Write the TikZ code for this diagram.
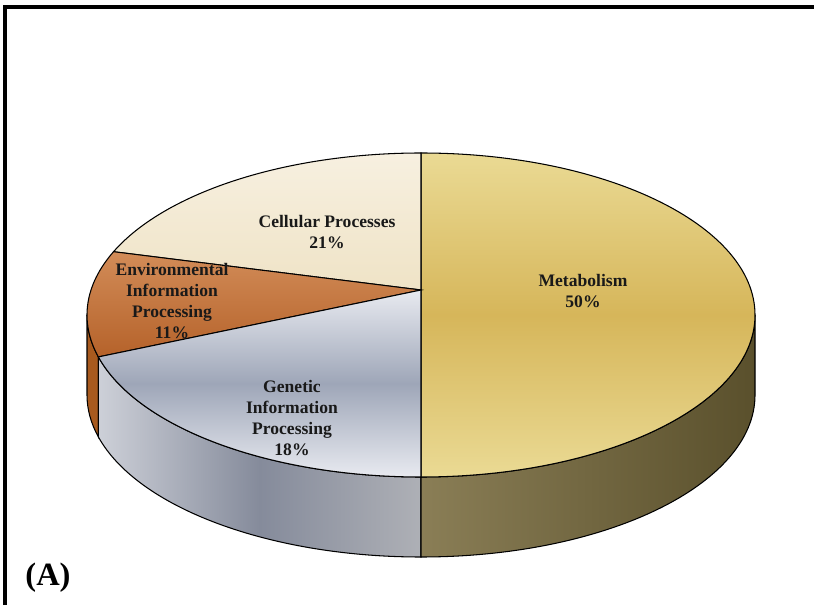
\documentclass[tikz,border=0pt]{standalone}
\usepackage{fontspec}
\setmainfont{Liberation Serif}
\usetikzlibrary{calc}

\definecolor{metlight}{HTML}{EADA94}
\definecolor{metmid}{HTML}{D6B65A}
\definecolor{cellight}{HTML}{F7F0E0}
\definecolor{celdark}{HTML}{EFE3C6}
\definecolor{envlight}{HTML}{D28C58}
\definecolor{envdark}{HTML}{B5622A}
\definecolor{genlight}{HTML}{E8EAF0}
\definecolor{genmid}{HTML}{9EA6B8}
\definecolor{metsideA}{HTML}{8A7E56}
\definecolor{metsideB}{HTML}{5A502C}
\definecolor{gensideA}{HTML}{CDD0D8}
\definecolor{gensideB}{HTML}{858B9B}
\definecolor{gensideC}{HTML}{AEB0B6}
\definecolor{envside}{HTML}{A85A1E}

\begin{document}
\begin{tikzpicture}[x=0.02cm, y=0.02cm, line width=0.6pt,
    mettop/.style={draw=black, top color=metlight, bottom color=metlight, middle color=metmid},
    celtop/.style={draw=black, top color=cellight, bottom color=celdark},
    envtop/.style={draw=black, top color=envlight, bottom color=envdark},
    gentop/.style={draw=black, top color=genlight, bottom color=genlight, middle color=genmid},
    metside/.style={draw=black, left color=metsideA, right color=metsideB},
    genside/.style={draw=black, left color=gensideA, right color=gensideC, middle color=gensideB},
    envsidestyle/.style={draw=black, fill=envside},
    lbl/.style={align=center, text=black!90, font=\bfseries\fontsize{10}{11.8}\selectfont}]
  \useasboundingbox (0,0) rectangle (814,605);
  \fill[white] (0,0) rectangle (814,605);
  \draw[line width=2pt] (5,0) -- (5,598) -- (814,598);

  \coordinate (c) at (421,290);  % centre of top face
  \coordinate (b) at (421,210);  % centre of bottom face
  \coordinate (o) at (421,315);  % tip of the wedges

  % rim
  \foreach \a/\e/\sty in {180/195/envsidestyle, 195/270/genside, 270/360/metside}
    \path[\sty] ($(c)+(\a:334 and 162)$) arc[start angle=\a, end angle=\e, x radius=334, y radius=162]
      -- ($(b)+(\e:334 and 162)$) arc[start angle=\e, end angle=\a, x radius=334, y radius=162] -- cycle;

  % top face
  \foreach \a/\e/\sty in {-90/90/mettop, 90/157/celtop, 157/195/envtop, 195/270/gentop}
    \path[\sty] (o) -- ($(c)+(\a:334 and 162)$) arc[start angle=\a, end angle=\e, x radius=334, y radius=162] -- cycle;

  \node[lbl] (met) at (583,314) {Metabolism\\50\%};
  \node[lbl] (cel) at (327,373) {Cellular Processes\\21\%};
  \node[lbl] (env) at (172,304) {Environmental\\Information\\Processing\\11\%};
  \node[lbl] (gen) at (292,187) {Genetic\\Information\\Processing\\18\%};

  \node[font=\bfseries\fontsize{18.5}{22}\selectfont] (tag) at (48,27) {(A)};
\end{tikzpicture}
\end{document}
